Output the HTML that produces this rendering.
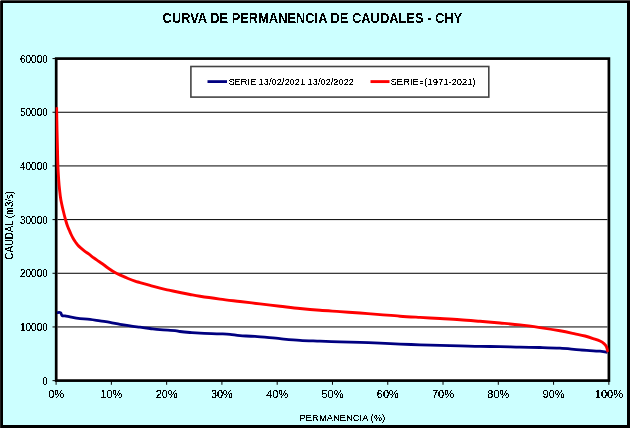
<!DOCTYPE html>
<html><head><meta charset="utf-8"><style>
html,body{margin:0;padding:0;background:#fff;width:631px;height:429px;overflow:hidden}
#frame{position:absolute;left:0;top:0;width:630px;height:428px;box-sizing:border-box;border:3px solid #000;background:#ccffff}
svg{position:absolute;left:0;top:0}
text{font-family:"Liberation Sans",sans-serif;fill:#000}
</style></head><body>
<div id="frame"></div>
<div style="position:absolute;left:0;top:0;width:1px;height:428px;background:#222"></div>
<div style="position:absolute;left:0;top:0;width:630px;height:1px;background:#4a4a4a"></div>
<div style="position:absolute;left:0;top:0;width:1px;height:1px;background:#bbb"></div>
<svg width="631" height="429" viewBox="0 0 631 429">
<rect x="56.2" y="58.6" width="552.7" height="322.0" fill="#fff" stroke="none"/>
<g stroke="#000" stroke-width="1" fill="none"><line x1="57.5" x2="607.5" y1="112.250" y2="112.250"/><line x1="57.5" x2="607.5" y1="165.925" y2="165.925"/><line x1="57.5" x2="607.5" y1="219.600" y2="219.600"/><line x1="57.5" x2="607.5" y1="273.275" y2="273.275"/><line x1="57.5" x2="607.5" y1="326.950" y2="326.950"/></g>
<g stroke="#000" stroke-width="1" fill="none"><line x1="52.5" x2="56" y1="58.575" y2="58.575"/><line x1="52.5" x2="56" y1="112.250" y2="112.250"/><line x1="52.5" x2="56" y1="165.925" y2="165.925"/><line x1="52.5" x2="56" y1="219.600" y2="219.600"/><line x1="52.5" x2="56" y1="273.275" y2="273.275"/><line x1="52.5" x2="56" y1="326.950" y2="326.950"/><line x1="52.5" x2="56" y1="380.625" y2="380.625"/><line x1="56.10" x2="56.10" y1="381" y2="384.8"/><line x1="111.38" x2="111.38" y1="381" y2="384.8"/><line x1="166.65" x2="166.65" y1="381" y2="384.8"/><line x1="221.92" x2="221.92" y1="381" y2="384.8"/><line x1="277.20" x2="277.20" y1="381" y2="384.8"/><line x1="332.48" x2="332.48" y1="381" y2="384.8"/><line x1="387.75" x2="387.75" y1="381" y2="384.8"/><line x1="443.03" x2="443.03" y1="381" y2="384.8"/><line x1="498.30" x2="498.30" y1="381" y2="384.8"/><line x1="553.57" x2="553.57" y1="381" y2="384.8"/><line x1="608.85" x2="608.85" y1="381" y2="384.8"/></g>
<rect x="190.9" y="66.5" width="297.9" height="30.6" fill="#fff" stroke="#444" stroke-width="1.6"/>
<line x1="207.5" x2="227" y1="81.6" y2="81.6" stroke="#000080" stroke-width="2.8"/>
<line x1="370.5" x2="389.5" y1="81.6" y2="81.6" stroke="#ff0000" stroke-width="2.9"/>
<rect x="56.2" y="58.6" width="552.7" height="322.0" fill="none" stroke="#000" stroke-width="2.7"/>
<defs><clipPath id="pc"><rect x="55.6" y="59" width="553.2" height="321"/></clipPath></defs>
<g clip-path="url(#pc)">
<path d="M57.00,312.60 C57.58,312.60 59.67,312.12 60.50,312.60 C61.33,313.08 61.25,314.95 62.00,315.50 C62.75,316.05 63.67,315.67 65.00,315.90 C66.33,316.13 68.33,316.58 70.00,316.90 C71.67,317.22 73.33,317.52 75.00,317.80 C76.67,318.08 77.50,318.35 80.00,318.60 C82.50,318.85 86.67,318.92 90.00,319.30 C93.33,319.68 96.67,320.38 100.00,320.90 C103.33,321.42 106.67,321.82 110.00,322.40 C113.33,322.98 116.67,323.82 120.00,324.40 C123.33,324.98 126.67,325.43 130.00,325.90 C133.33,326.37 136.67,326.77 140.00,327.20 C143.33,327.63 146.67,328.08 150.00,328.50 C153.33,328.92 155.83,329.35 160.00,329.70 C164.17,330.05 171.67,330.30 175.00,330.60 C178.33,330.90 177.50,331.18 180.00,331.50 C182.50,331.82 186.67,332.22 190.00,332.50 C193.33,332.78 195.00,332.98 200.00,333.20 C205.00,333.42 215.00,333.62 220.00,333.80 C225.00,333.98 226.67,333.98 230.00,334.30 C233.33,334.62 235.83,335.35 240.00,335.70 C244.17,336.05 248.33,335.90 255.00,336.40 C261.67,336.90 272.50,338.05 280.00,338.70 C287.50,339.35 293.33,339.90 300.00,340.30 C306.67,340.70 313.33,340.83 320.00,341.10 C326.67,341.37 333.33,341.68 340.00,341.90 C346.67,342.12 353.33,342.18 360.00,342.40 C366.67,342.62 373.33,342.92 380.00,343.20 C386.67,343.48 393.33,343.83 400.00,344.10 C406.67,344.37 413.33,344.60 420.00,344.80 C426.67,345.00 433.33,345.13 440.00,345.30 C446.67,345.47 453.33,345.62 460.00,345.80 C466.67,345.98 473.33,346.27 480.00,346.40 C486.67,346.53 493.33,346.47 500.00,346.60 C506.67,346.73 513.33,347.05 520.00,347.20 C526.67,347.35 533.33,347.33 540.00,347.50 C546.67,347.67 553.33,347.80 560.00,348.20 C566.67,348.60 573.33,349.40 580.00,349.90 C586.67,350.40 595.42,350.78 600.00,351.20 C604.58,351.62 606.25,352.20 607.50,352.40" fill="none" stroke="#000080" stroke-width="2.8" stroke-linejoin="round" stroke-linecap="butt"/>
<path d="M56.60,107.20 C56.67,111.00 56.85,122.87 57.00,130.00 C57.15,137.13 57.35,144.00 57.50,150.00 C57.65,156.00 57.70,161.00 57.90,166.00 C58.10,171.00 58.42,176.00 58.70,180.00 C58.98,184.00 59.23,186.67 59.60,190.00 C59.97,193.33 60.28,196.50 60.90,200.00 C61.52,203.50 62.52,207.67 63.30,211.00 C64.08,214.33 64.90,217.50 65.60,220.00 C66.30,222.50 66.90,224.33 67.50,226.00 C68.10,227.67 68.63,228.67 69.20,230.00 C69.77,231.33 70.23,232.58 70.90,234.00 C71.57,235.42 72.38,237.08 73.20,238.50 C74.02,239.92 74.83,241.18 75.80,242.50 C76.77,243.82 77.63,245.05 79.00,246.40 C80.37,247.75 82.33,249.30 84.00,250.60 C85.67,251.90 87.33,252.97 89.00,254.20 C90.67,255.43 92.33,256.78 94.00,258.00 C95.67,259.22 97.33,260.33 99.00,261.50 C100.67,262.67 102.50,263.92 104.00,265.00 C105.50,266.08 106.17,266.73 108.00,268.00 C109.83,269.27 112.83,271.37 115.00,272.60 C117.17,273.83 118.83,274.42 121.00,275.40 C123.17,276.38 125.67,277.53 128.00,278.50 C130.33,279.47 133.00,280.52 135.00,281.20 C137.00,281.88 137.50,281.90 140.00,282.60 C142.50,283.30 146.67,284.47 150.00,285.40 C153.33,286.33 156.67,287.37 160.00,288.20 C163.33,289.03 166.67,289.68 170.00,290.40 C173.33,291.12 176.67,291.82 180.00,292.50 C183.33,293.18 186.67,293.87 190.00,294.50 C193.33,295.13 195.00,295.53 200.00,296.30 C205.00,297.07 213.33,298.23 220.00,299.10 C226.67,299.97 233.33,300.70 240.00,301.50 C246.67,302.30 253.33,303.12 260.00,303.90 C266.67,304.68 273.33,305.43 280.00,306.20 C286.67,306.97 293.33,307.82 300.00,308.50 C306.67,309.18 313.33,309.78 320.00,310.30 C326.67,310.82 333.33,311.15 340.00,311.60 C346.67,312.05 353.33,312.50 360.00,313.00 C366.67,313.50 373.33,314.07 380.00,314.60 C386.67,315.13 393.33,315.73 400.00,316.20 C406.67,316.67 413.33,317.02 420.00,317.40 C426.67,317.78 433.33,318.12 440.00,318.50 C446.67,318.88 453.33,319.23 460.00,319.70 C466.67,320.17 473.33,320.75 480.00,321.30 C486.67,321.85 493.33,322.40 500.00,323.00 C506.67,323.60 513.33,324.13 520.00,324.90 C526.67,325.67 533.33,326.62 540.00,327.60 C546.67,328.58 554.17,329.77 560.00,330.80 C565.83,331.83 570.83,332.93 575.00,333.80 C579.17,334.67 581.83,335.17 585.00,336.00 C588.17,336.83 591.50,337.97 594.00,338.80 C596.50,339.63 598.33,340.20 600.00,341.00 C601.67,341.80 602.92,342.63 604.00,343.60 C605.08,344.57 605.83,345.40 606.50,346.80 C607.17,348.20 607.75,351.13 608.00,352.00" fill="none" stroke="#ff0000" stroke-width="2.9" stroke-linejoin="round" stroke-linecap="butt"/>
</g>
<defs><filter id="crisp" color-interpolation-filters="sRGB"><feComponentTransfer><feFuncA type="discrete" tableValues="0 0 1 1 1"/></feComponentTransfer></filter><filter id="crisp2" color-interpolation-filters="sRGB"><feComponentTransfer><feFuncA type="discrete" tableValues="0 1"/></feComponentTransfer></filter></defs>
<g filter="url(#crisp)">
<g font-size="10" text-anchor="end"><text x="47.8" y="384.5">0</text><text x="47.8" y="330.8">10000</text><text x="47.8" y="277.2">20000</text><text x="47.8" y="223.5">30000</text><text x="47.8" y="169.8">40000</text><text x="47.8" y="116.2">50000</text><text x="47.8" y="62.5">60000</text></g>
<g font-size="11" text-anchor="middle"><text x="56.1" y="398">0%</text><text x="111.4" y="398">10%</text><text x="166.7" y="398">20%</text><text x="221.9" y="398">30%</text><text x="277.2" y="398">40%</text><text x="332.5" y="398">50%</text><text x="387.8" y="398">60%</text><text x="443.0" y="398">70%</text><text x="498.3" y="398">80%</text><text x="553.6" y="398">90%</text><text x="608.9" y="398">100%</text></g>
<text x="228.4" y="85.2" font-size="9.9" textLength="125.5" lengthAdjust="spacingAndGlyphs">SERIE 13/02/2021 13/02/2022</text>
<text x="390.6" y="85.2" font-size="9.9" textLength="85" lengthAdjust="spacingAndGlyphs">SERIE=(1971-2021)</text>
<text x="299.6" y="421" font-size="9.9" textLength="85.5" lengthAdjust="spacingAndGlyphs">PERMANENCIA (%)</text>
<text transform="translate(13.1,225.2) rotate(-90)" font-size="10" text-anchor="middle" textLength="68.5" lengthAdjust="spacingAndGlyphs">CAUDAL (m3/s)</text>
</g>
<g filter="url(#crisp2)"><text x="162.6" y="22.9" font-size="14.4" font-weight="bold" textLength="299.5" lengthAdjust="spacingAndGlyphs">CURVA DE PERMANENCIA DE CAUDALES - CHY</text>
</g>
</svg>
</body></html>
